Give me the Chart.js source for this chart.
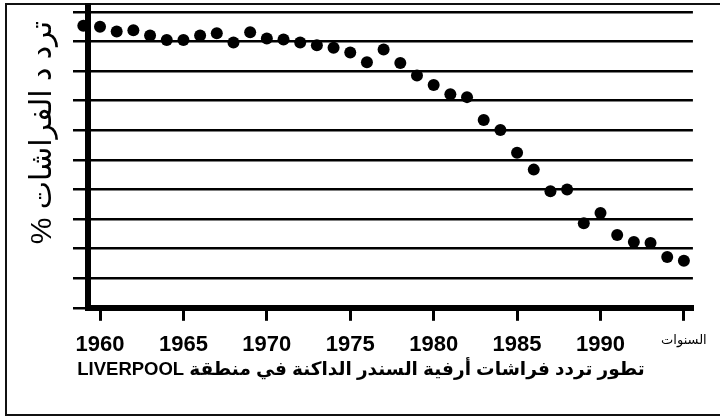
<!DOCTYPE html>
<html lang="ar">
<head>
<meta charset="UTF-8">
<title>تطور تردد الفراشات - LIVERPOOL</title>
<script src="https://cdn.jsdelivr.net/npm/chart.js"></script>
<style>
  html, body { margin: 0; padding: 0; background: #fff; }
  body { width: 720px; height: 417px; position: relative; overflow: hidden; }
  .frame {
    position: absolute; left: 5px; top: 3px; width: 740px; height: 409px;
    border: 2px solid #111; border-right: none;
  }
  .chart-box { position: absolute; left: 0; top: 0; width: 720px; height: 417px; }
</style>
</head>
<body>
<div class="frame"></div>
<div class="chart-box">
  <canvas id="mothChart"></canvas>
</div>

<script>
  // السنوات و نسب تردد الفراشات الداكنة (مقروءة من الرسم)
  const years = [1959, 1960, 1961, 1962, 1963, 1964, 1965, 1966, 1967, 1968,
                 1969, 1970, 1971, 1972, 1973, 1974, 1975, 1976, 1977, 1978,
                 1979, 1980, 1981, 1982, 1983, 1984, 1985, 1986, 1987, 1988,
                 1989, 1990, 1991, 1992, 1993, 1994, 1995];
  const frequency = [95.3, 95.0, 93.4, 93.8, 92.0, 90.5, 90.5, 92.0, 92.8, 89.7,
                     93.1, 91.0, 90.7, 89.7, 88.7, 87.9, 86.3, 83.0, 87.3, 82.7,
                     78.5, 75.3, 72.2, 71.2, 63.5, 60.1, 52.4, 46.7, 39.4, 40.0,
                     28.6, 32.0, 24.6, 22.2, 21.9, 17.2, 15.9];

  const xTickValues = [1960, 1965, 1970, 1975, 1980, 1985, 1990, 1995];
  const xTickLabels = ['1960', '1965', '1970', '1975', '1980', '1985', '1990', 'السنوات'];
  const yGridValues = [0, 10, 20, 30, 40, 50, 60, 70, 80, 90, 100];

  // RLE ... PDF : نص عربي من اليمين لليسار داخل لوحة LTR
  const yTitle = '\u202B\u2002ترد د الفراشات %\u202C';
  const caption = '\u202Bتطور تردد فراشات أرفية السندر الداكنة في منطقة LIVERPOOL\u202C';

  const fontFamily = "'Liberation Sans', 'DejaVu Sans', sans-serif";

  const points = years.map((y, i) => ({ x: y, y: frequency[i] }));

  const ctx = document.getElementById('mothChart').getContext('2d');
  new Chart(ctx, {
    type: 'scatter',
    data: {
      datasets: [{
        data: points,
        backgroundColor: '#000',
        borderWidth: 0,
        pointRadius: 6,
        pointHoverRadius: 6,
        clip: false
      }]
    },
    options: {
      responsive: true,
      maintainAspectRatio: false,
      animation: false,
      events: [],
      layout: { padding: { left: 20, right: 18, top: 5, bottom: 36 } },
      plugins: {
        legend: { display: false },
        tooltip: { enabled: false },
        title: {
          display: true,
          position: 'bottom',
          text: caption,
          color: '#000',
          font: { family: fontFamily, size: 18.5, weight: 'bold' },
          padding: { top: -10, bottom: 0 }
        }
      },
      scales: {
        x: {
          type: 'linear',
          min: 1959.28,
          max: 1995.54,
          afterBuildTicks: axis => { axis.ticks = xTickValues.map(v => ({ value: v })); },
          grid: {
            display: true, drawOnChartArea: false, drawTicks: true,
            tickLength: 13, color: '#000', lineWidth: 3
          },
          border: { display: true, color: '#000', width: 6 },
          ticks: {
            autoSkip: false,
            maxRotation: 0,
            padding: 13,
            color: '#000',
            callback: (value, index) => xTickLabels[index],
            font: c => c.index === xTickLabels.length - 1
              ? { family: fontFamily, size: 13, weight: 'normal', lineHeight: 1 }
              : { family: fontFamily, size: 22, weight: 'bold', lineHeight: 1 }
          }
        },
        y: {
          min: 0,
          max: 102,
          afterBuildTicks: axis => { axis.ticks = yGridValues.map(v => ({ value: v })); },
          grid: { color: '#000', lineWidth: 2.5, tickLength: 15, drawTicks: true },
          border: { display: true, color: '#000', width: 6 },
          ticks: { display: false },
          title: {
            display: true,
            text: yTitle,
            align: 'end',
            color: '#000',
            font: { family: fontFamily, size: 30 },
            padding: { top: 5, bottom: 12 }
          }
        }
      }
    }
  });
</script>
</body>
</html>
